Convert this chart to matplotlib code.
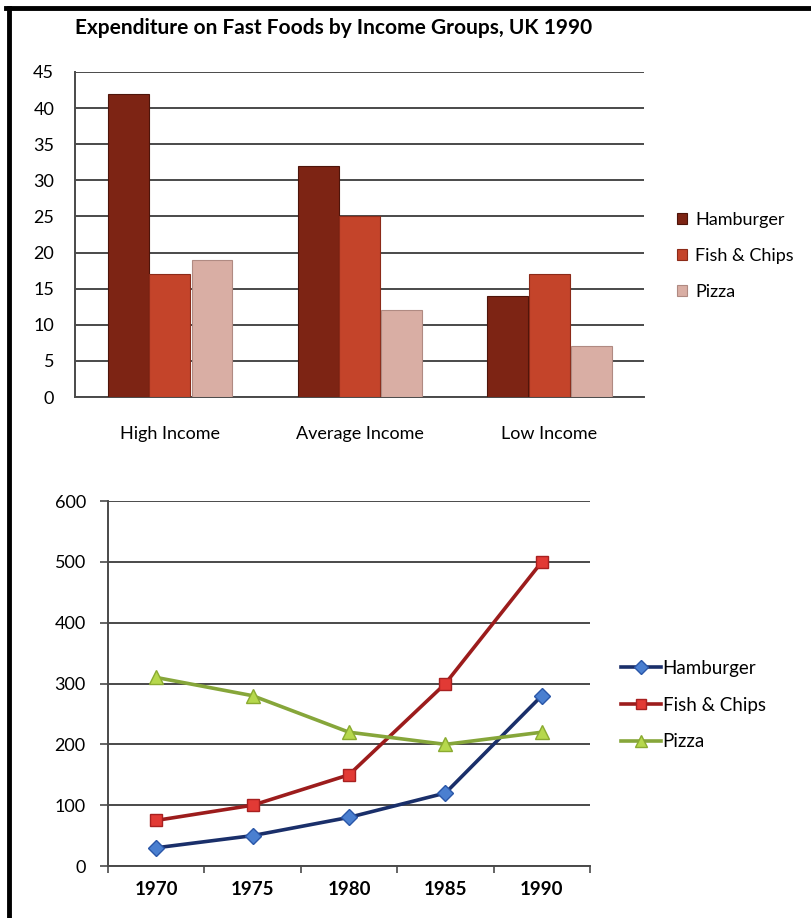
import numpy as np
import matplotlib
matplotlib.use('Agg')
import matplotlib.pyplot as plt
from matplotlib.lines import Line2D

plt.rcParams['font.family'] = ['Lato', 'DejaVu Sans']

#%% data
groups = ['High Income', 'Average Income', 'Low Income']
foods = ['Hamburger', 'Fish & Chips', 'Pizza']
hamburger_bar = [42, 32, 14]
fish_bar = [17, 25, 17]
pizza_bar = [19, 12, 7]

years = ['1970', '1975', '1980', '1985', '1990']
hamburger_line = [30, 50, 80, 120, 280]
fish_line = [75, 100, 150, 300, 500]
pizza_line = [310, 280, 220, 200, 220]

#%% figure
fig = plt.figure(figsize=(8.11, 9.18), dpi=100)
grid_c = '#4a4a4a'

# frame of the picture (top and left only)
fig.add_artist(Line2D([0.007, 1.0], [0.991, 0.991], color='black', lw=3.5,
                      transform=fig.transFigure))
fig.add_artist(Line2D([0.011, 0.011], [0.0, 0.991], color='black', lw=3.5,
                      transform=fig.transFigure))

#%% top: bars
ax1 = fig.add_axes([0.0925, 0.5675, 0.7015, 0.3541])
x = np.arange(len(groups))
w = 0.215
bar_cols = ['#7d2414', '#c4442a', '#d9aea4']
edge_cols = ['#4e140a', '#8c2a18', '#b08a82']
vals = [hamburger_bar, fish_bar, pizza_bar]
offs = [-0.218, 0.0, 0.222]
for v, o, c, e, lab in zip(vals, offs, bar_cols, edge_cols, foods):
    ax1.bar(x + o, v, width=w, color=c, edgecolor=e, linewidth=0.8,
            label=lab, zorder=3)

ax1.set_ylim(0, 45)
ax1.set_xlim(-0.5, 2.5)
ax1.set_yticks(range(0, 46, 5))
ax1.yaxis.grid(True, color=grid_c, lw=1.4, zorder=0)
ax1.set_xticks(x)
ax1.set_xticklabels(groups, fontsize=13)
ax1.tick_params(axis='x', length=0, pad=21)
ax1.tick_params(axis='y', length=0, pad=15, labelsize=13)
for s in ['top', 'right']:
    ax1.spines[s].set_visible(False)
ax1.spines['left'].set_color(grid_c)
ax1.spines['left'].set_linewidth(1.4)
ax1.spines['bottom'].set_color(grid_c)
ax1.spines['bottom'].set_linewidth(1.4)

fig.text(0.0925, 0.969, 'Expenditure on Fast Foods by Income Groups, UK 1990',
         fontsize=15, fontweight='bold', va='center', ha='left')

ax1.legend(loc='center left', bbox_to_anchor=(1.03, 0.434), frameon=False,
           fontsize=13, handlelength=0.55, handleheight=0.55,
           handletextpad=0.45, labelspacing=1.1)

#%% bottom: lines
ax2 = fig.add_axes([0.1332, 0.0566, 0.5943, 0.3976])
xp = np.arange(len(years))
ax2.plot(xp, hamburger_line, color='#1a2f6a', lw=2.6, marker='D', ms=8,
         mfc='#4a7fd0', mec='#2a56a8', label='Hamburger', zorder=4)
ax2.plot(xp, fish_line, color='#9c1c1c', lw=2.6, marker='s', ms=8.5,
         mfc='#e23a35', mec='#a82020', label='Fish & Chips', zorder=4)
ax2.plot(xp, pizza_line, color='#86a63a', lw=2.6, marker='^', ms=10,
         mfc='#b6d84c', mec='#8aaa30', label='Pizza', zorder=4)

ax2.set_ylim(0, 600)
ax2.set_xlim(-0.5, 4.5)
ax2.set_yticks(range(0, 601, 100))
ax2.yaxis.grid(True, color=grid_c, lw=1.4, zorder=0)
ax2.set_xticks(np.arange(-0.5, 4.6, 1))
ax2.set_xticklabels([])
ax2.set_xticks(xp, minor=True)
ax2.set_xticklabels(years, minor=True, fontsize=13.5, fontweight='bold')
ax2.tick_params(axis='x', which='major', length=5, color=grid_c, width=1.2)
ax2.tick_params(axis='x', which='minor', length=0, pad=11)
ax2.tick_params(axis='y', length=6, color=grid_c, width=1.2, pad=10,
                labelsize=13)
for s in ['top', 'right']:
    ax2.spines[s].set_visible(False)
for s in ['left', 'bottom']:
    ax2.spines[s].set_color(grid_c)
    ax2.spines[s].set_linewidth(1.4)

ax2.legend(loc='center left', bbox_to_anchor=(1.03, 0.441), frameon=False,
           fontsize=13.5, handlelength=2.1, handletextpad=0.1,
           labelspacing=1.05, markerscale=0.85)

fig.savefig('out.png', dpi=100, facecolor='white')
